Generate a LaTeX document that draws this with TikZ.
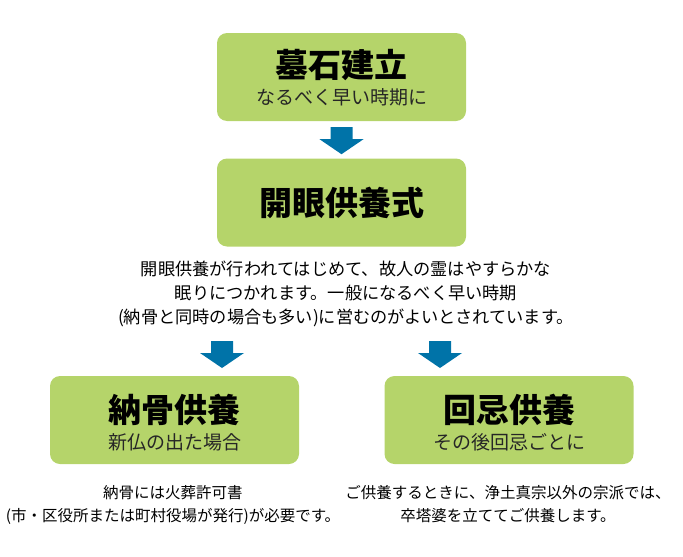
\documentclass[tikz,border=0pt]{standalone}
\usepackage{fontspec}
\newfontfamily\jp{Noto Sans CJK JP}
\usetikzlibrary{calc}
\definecolor{boxgreen}{RGB}{181,212,106}
\definecolor{arrowblue}{RGB}{0,115,168}
\tikzset{
  stepbox/.style={draw=none, fill=boxgreen, rounded corners=10pt,
    minimum width=249pt, minimum height=88pt, inner sep=0pt},
  titletext/.style={font=\jp\bfseries\fontsize{33}{33}\selectfont, inner sep=0pt},
  subtext/.style={font=\jp\fontsize{19}{19}\selectfont, inner sep=0pt, text=black!85},
  bodytext/.style={font=\jp\fontsize{17.2}{24}\selectfont, align=center, inner sep=0pt},
  notetext/.style={font=\jp\fontsize{15.5}{23}\selectfont, align=center, inner sep=0pt},
  blockarrow/.style={fill=arrowblue, draw=none}
}
\newcommand{\downarrowblock}[1]{%
  \fill[blockarrow, shift={(#1)}] (-11,0) -- (11,0) -- (11,-12) -- (22,-12) -- (0,-27) -- (-22,-12) -- (-11,-12) -- cycle;}
\begin{document}
\begin{tikzpicture}[x=1pt,y=1pt]
\useasboundingbox (0,0) rectangle (683,-557);
% boxes
\node[stepbox] (b1) at (341.5,-77) {};
\node[stepbox] (b2) at (341.5,-202.5) {};
\node[stepbox] (b3) at (174.5,-420) {};
\node[stepbox] (b4) at (509,-420) {};
% box texts
\node[titletext] (t1) at ($(b1.center)+(0,11.5)$) {墓石建立};
\node[subtext] (s1) at ($(b1.center)+(0,-20.5)$) {なるべく早い時期に};
\node[titletext] (t2) at (b2.center) {開眼供養式};
\node[titletext] (t3) at ($(b3.center)+(0,10)$) {納骨供養};
\node[subtext] (s3) at ($(b3.center)+(0,-22)$) {新仏の出た場合};
\node[titletext] (t4) at ($(b4.center)+(0,10)$) {回忌供養};
\node[subtext] (s4) at ($(b4.center)+(0,-22)$) {その後回忌ごとに};
% paragraph
\node[bodytext] (p) at (346,-294) {開眼供養が行われてはじめて、故人の霊はやすらかな\\眠りにつかれます。一般になるべく早い時期\\(納骨と同時の場合も多い)に営むのがよいとされています。};
\node[notetext] (n3) at (173,-504.5) {納骨には火葬許可書\\(市・区役所または町村役場が発行)が必要です。};
\node[notetext] (n4) at (508,-504.5) {ご供養するときに、浄土真宗以外の宗派では、\\卒塔婆を立ててご供養します。};
% arrows
\coordinate (a1) at ($(b1.south)+(0,-6)$);
\coordinate (a2) at (222,-341);
\coordinate (a3) at (440,-341);
\downarrowblock{a1}
\downarrowblock{a2}
\downarrowblock{a3}
\end{tikzpicture}
\end{document}
